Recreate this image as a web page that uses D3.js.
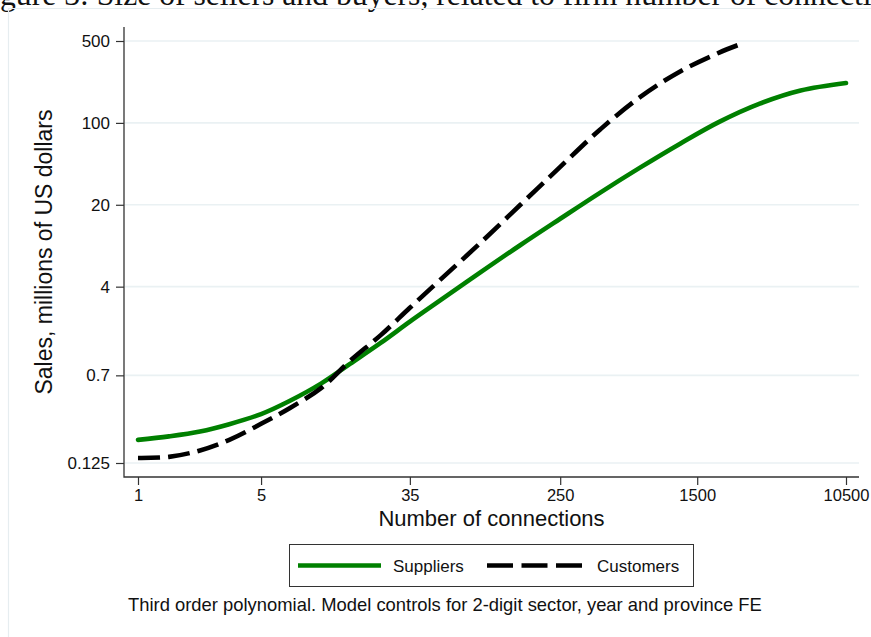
<!DOCTYPE html>
<html>
<head>
<meta charset="utf-8">
<script src="https://cdn.jsdelivr.net/npm/d3@7"></script>
<style>
  html, body { margin: 0; padding: 0; background: #ffffff; overflow: hidden; }
  svg { display: block; }
</style>
</head>
<body>
<svg id="chart" width="871" height="637"></svg>
<script>
// Fitted sales by number of connections (third-order polynomial in logs)
const supplierConnections = [1, 1.5, 2.25, 3.3, 5, 7.3, 11, 16, 24, 35, 52, 88, 148, 250, 420, 710, 1200, 2000, 3400, 5800, 10500];
const supplierSales = [0.197, 0.211, 0.232, 0.268, 0.327, 0.425, 0.598, 0.877, 1.33, 2.01, 3.05, 5.29, 9.03, 15.2, 25.3, 41.5, 66.5, 102, 146, 189, 219];

const customerConnections = [1, 1.5, 2.25, 3.3, 5, 7.3, 11, 16, 24, 35, 52, 88, 148, 250, 420, 710, 1200, 2000, 2600];
const customerSales = [0.138, 0.141, 0.160, 0.197, 0.270, 0.369, 0.547, 0.930, 1.55, 2.64, 4.57, 9.45, 19.9, 42.1, 87.4, 166, 275, 398, 466];

const xTickValues = [1, 5, 35, 250, 1500, 10500];
const xTickLabels = ["1", "5", "35", "250", "1500", "10500"];
const yTickValues = [0.125, 0.7, 4, 20, 100, 500];
const yTickLabels = ["0.125", "0.7", "4", "20", "100", "500"];

const seriesNames = ["Suppliers", "Customers"];

const svg = d3.select("#chart");
const W = 871, H = 637;
const sans = "'Liberation Sans', Arial, Helvetica, sans-serif";
const serif = "'Liberation Serif', 'Times New Roman', serif";

// plot region edges
const plot = { left: 124, right: 859, top: 27, bottom: 477 };

const x = d3.scaleLog().domain([1, 10500]).range([138, 846]);
const y = d3.scaleLog().domain([0.125, 500]).range([463, 41]);

// caption line of the surrounding document, running off the top edge
{
  const caption = "Figure 3: Size of sellers and buyers, related to firm number of connections";
  const probe = svg.append("text").attr("font-family", serif).attr("font-size", 100);
  probe.text("Fi");
  const lead = probe.node().getComputedTextLength();
  probe.text("gure 3: Size of sellers and buyers, related to firm number of connecti");
  const span = probe.node().getComputedTextLength();
  probe.remove();
  const size = 100 * 872 / span;
  svg.append("text")
    .attr("x", -lead * size / 100)
    .attr("y", 5)
    .attr("font-family", serif)
    .attr("font-size", size)
    .attr("fill", "#111")
    .text(caption);
}

// outer graph-region frame
svg.append("path")
  .attr("d", `M8.5,${H} V8.5 H${W}`)
  .attr("fill", "none")
  .attr("stroke", "#e6edf0")
  .attr("stroke-width", 1.2);

// horizontal gridlines
svg.append("g").selectAll("line")
  .data(yTickValues)
  .join("line")
  .attr("x1", plot.left + 1).attr("x2", plot.right)
  .attr("y1", d => y(d)).attr("y2", d => y(d))
  .attr("stroke", "#eaf1f3")
  .attr("stroke-width", 1.6);

// y axis
const yAxis = d3.axisLeft(y)
  .tickValues(yTickValues)
  .tickFormat((d, i) => yTickLabels[i])
  .tickSize(8)
  .tickPadding(6);
const gy = svg.append("g").attr("transform", `translate(${plot.left},0)`).call(yAxis);
gy.select(".domain").remove();
gy.selectAll(".tick line").attr("stroke", "#333").attr("stroke-width", 1.2);
gy.selectAll(".tick text")
  .attr("font-family", sans)
  .attr("font-size", 17).attr("fill", "#111");

// x axis
const xAxis = d3.axisBottom(x)
  .tickValues(xTickValues)
  .tickFormat((d, i) => xTickLabels[i])
  .tickSize(8)
  .tickPadding(4);
const gx = svg.append("g").attr("transform", `translate(0,${plot.bottom})`).call(xAxis);
gx.select(".domain").remove();
gx.selectAll(".tick line").attr("stroke", "#333").attr("stroke-width", 1.2);
gx.selectAll(".tick text")
  .attr("font-family", sans)
  .attr("font-size", 16.5).attr("fill", "#111");

// axis lines
svg.append("path")
  .attr("d", `M${plot.left},${plot.top} V${plot.bottom} H${plot.right}`)
  .attr("fill", "none")
  .attr("stroke", "#333")
  .attr("stroke-width", 1.3);

// axis titles
svg.append("text")
  .attr("x", (plot.left + plot.right) / 2)
  .attr("y", 526)
  .attr("text-anchor", "middle")
  .attr("font-family", sans)
  .attr("font-size", 22).attr("fill", "#111")
  .text("Number of connections");

svg.append("text")
  .attr("transform", `translate(51.5,${(plot.top + plot.bottom) / 2}) rotate(-90)`)
  .attr("text-anchor", "middle")
  .attr("font-family", sans)
  .attr("font-size", 23).attr("fill", "#111")
  .text("Sales, millions of US dollars");

// fitted curves
const line = d3.line()
  .x(d => x(d[0]))
  .y(d => y(d[1]))
  .curve(d3.curveCatmullRom.alpha(0.5));

const supplierPts = supplierConnections.map((c, i) => [c, supplierSales[i]]);
const customerPts = customerConnections.map((c, i) => [c, customerSales[i]]);

svg.append("path")
  .datum(supplierPts)
  .attr("d", line)
  .attr("fill", "none")
  .attr("stroke", "#008000")
  .attr("stroke-width", 4.6)
  .attr("stroke-linecap", "round");

svg.append("path")
  .datum(customerPts)
  .attr("d", line)
  .attr("fill", "none")
  .attr("stroke", "#000")
  .attr("stroke-width", 4.6)
  .attr("stroke-dasharray", "22,8");

// legend
const lg = svg.append("g");
lg.append("rect")
  .attr("x", 289.5).attr("y", 544.5)
  .attr("width", 404).attr("height", 42)
  .attr("fill", "#fff")
  .attr("stroke", "#333").attr("stroke-width", 1);
lg.append("line")
  .attr("x1", 298).attr("x2", 381).attr("y1", 565.5).attr("y2", 565.5)
  .attr("stroke", "#008000").attr("stroke-width", 4.6);
lg.append("text")
  .attr("x", 393).attr("y", 571.5)
  .attr("font-family", sans)
  .attr("font-size", 17).attr("fill", "#111")
  .text(seriesNames[0]);
lg.append("line")
  .attr("x1", 487).attr("x2", 583).attr("y1", 565.5).attr("y2", 565.5)
  .attr("stroke", "#000").attr("stroke-width", 4.6)
  .attr("stroke-dasharray", "26,8.5");
lg.append("text")
  .attr("x", 597).attr("y", 571.5)
  .attr("font-family", sans)
  .attr("font-size", 17).attr("fill", "#111")
  .text(seriesNames[1]);

// note
svg.append("text")
  .attr("x", 128).attr("y", 611)
  .attr("font-family", sans)
  .attr("font-size", 18.4).attr("fill", "#111")
  .text("Third order polynomial. Model controls for 2-digit sector, year and province FE");
</script>
</body>
</html>
